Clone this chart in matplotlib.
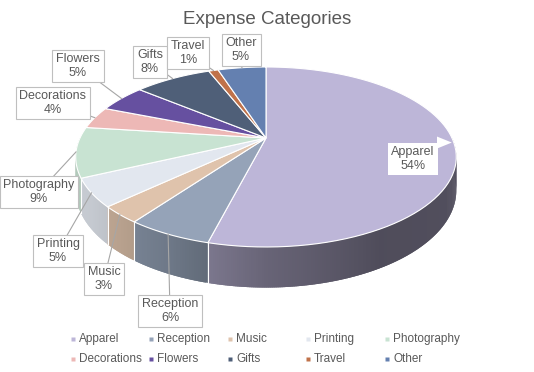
import numpy as np
import matplotlib.pyplot as plt
from matplotlib.patches import Polygon

categories = ["Apparel", "Reception", "Music", "Printing", "Photography",
              "Decorations", "Flowers", "Gifts", "Travel", "Other"]
shares = [54, 6, 3, 5, 9, 4, 5, 8, 1, 5]
colors = ["#BDB6D8", "#95A3B8", "#DFC3AC", "#E2E7EF", "#C8E3D2",
          "#EDB8B6", "#6650A0", "#4F5F78", "#C0724A", "#6480B0"]

# label box centres (pixels)
label_pos = [(413, 159), (170, 311), (104, 279), (58, 251), (39, 192),
             (53, 103), (78, 66), (150, 62), (188, 53), (241, 50)]

plt.rcParams["font.family"] = ["Liberation Sans", "DejaVu Sans"]
TXT = "#595959"

# projection of the tilted disc
CX, CY = 266, 138
A, B, K, H = 186, 86, 0.211, 32


def proj(t, z=0.0):
    t = np.radians(t)
    d = np.sin(t)
    s = 1.0 / (1.0 + K * d)
    return CX + A * np.cos(t) * s, CY + (-B * d + H * z) * s


def shade(c, f):
    rgb = np.array(plt.matplotlib.colors.to_rgb(c))
    return tuple(np.clip(rgb * f, 0, 1))


shade_t = [-180, -145, -130, -115, -105, -90, -60, -30, 0]
shade_f = [0.90, 0.87, 0.82, 0.74, 0.66, 0.55, 0.42, 0.43, 0.47]

fig = plt.figure(figsize=(5.34, 3.72), dpi=100)
ax = fig.add_axes([0, 0, 1, 1])
ax.set_xlim(0, 534)
ax.set_ylim(372, 0)
ax.axis("off")

total = float(sum(shares))
bounds = 90 - 360 * np.concatenate([[0], np.cumsum(shares)]) / total

# side walls (front half only), drawn as overlapping thin strips
for i, c in enumerate(colors):
    t1, t2 = bounds[i], bounds[i + 1]
    lo, hi = max(t2, -180), min(t1, 0)
    if hi <= lo:
        continue
    ts = np.linspace(hi, lo, int((hi - lo) * 2) + 2)
    for a, b in zip(ts[:-1], ts[1:]):
        f = np.interp((a + b) / 2, shade_t, shade_f)
        b2 = max(b - 0.6, lo)
        seg = np.linspace(a, b2, 4)
        xt, yt = proj(seg)
        xb, yb = proj(seg[::-1], 1)
        pts = list(zip(xt, yt)) + list(zip(xb, yb))
        ax.add_patch(Polygon(pts, closed=True, fc=shade(c, f), ec="none",
                             zorder=1))
for t in bounds:
    if -180 < t < 0:
        x1, y1 = proj(t)
        x2, y2 = proj(t, 1)
        ax.plot([x1, x2], [y1, y2], color="white", lw=0.8, zorder=2)

# top faces
for i, c in enumerate(colors):
    ts = np.linspace(bounds[i], bounds[i + 1], 80)
    xs, ys = proj(ts)
    pts = [(CX, CY)] + list(zip(xs, ys))
    ax.add_patch(Polygon(pts, closed=True, fc=c, ec="white", lw=0.8, zorder=3))

# labels
for i, (name, v) in enumerate(zip(categories, shares)):
    lx, ly = label_pos[i]
    txt = f"{name}\n{v}%"
    if i == 0:
        ax.text(lx, ly, txt, ha="center", va="center", fontsize=9, color=TXT,
                linespacing=1.15, zorder=6,
                bbox=dict(boxstyle="square,pad=0.3", fc="white", ec="none"))
        xr, yr = proj(-3)
        ax.add_patch(Polygon([(437, yr - 6), (437, yr + 6), (xr - 2, yr)],
                             closed=True, fc="white", ec="none", zorder=6))
        continue
    tm = (bounds[i] + bounds[i + 1]) / 2
    ax_, ay_ = proj(tm)
    ax.plot([ax_, lx], [ay_, ly], color="#A6A6A6", lw=0.8, zorder=4)
    ax.text(lx, ly, txt, ha="center", va="center", fontsize=9, color=TXT,
            linespacing=1.15, zorder=6,
            bbox=dict(boxstyle="square,pad=0.3", fc="white", ec="#BFBFBF", lw=0.8))

ax.text(267, 19, "Expense Categories", ha="center", va="center",
        fontsize=13.5, color=TXT)

# legend, two rows of five
leg_x = [73, 151, 230, 308, 387]
leg_y = [339, 359]
for i, (name, c) in enumerate(zip(categories, colors)):
    x = leg_x[i % 5]
    y = leg_y[i // 5]
    ax.plot([x], [y], marker="s", ms=2.2, color=c, mec="none")
    ax.text(x + 6, y, name, ha="left", va="center", fontsize=8.5, color=TXT)

fig.savefig("out.png", dpi=100)
